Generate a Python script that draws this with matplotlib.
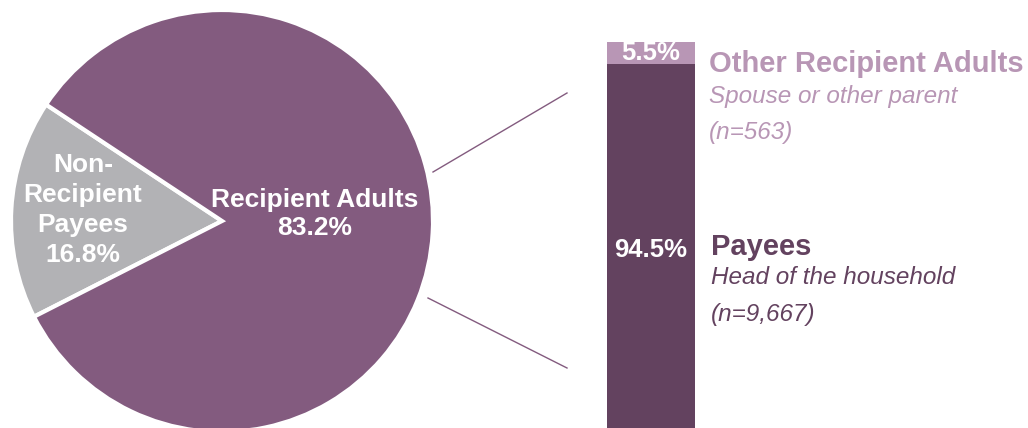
import matplotlib
matplotlib.use("Agg")
import matplotlib.pyplot as plt

plt.rcParams['font.family'] = ['Liberation Sans', 'DejaVu Sans']

# pie: share of adults
pie_labels = ["Non-\nRecipient\nPayees", "Recipient Adults"]
pie_values = [16.8, 83.2]
pie_colors = ["#B2B2B5", "#835B7F"]

# bar: breakdown of recipient adults
bar_names = ["Payees", "Other Recipient Adults"]
bar_subs = ["Head of the household", "Spouse or other parent"]
bar_counts = ["(n=9,667)", "(n=563)"]
bar_values = [94.5, 5.5]
bar_colors = ["#63425F", "#B896B5"]

W, H = 1028, 428
fig = plt.figure(figsize=(W / 100, H / 100), dpi=100)
ax = fig.add_axes([0, 0, 1, 1])

cx, cy, r = 222, H - 221, 211
ax.pie(pie_values, colors=pie_colors, startangle=146.5, counterclock=True,
       center=(cx, cy), radius=r,
       wedgeprops=dict(edgecolor="white", linewidth=3))
ax.set_xlim(0, W)
ax.set_ylim(0, H)
ax.set_aspect("auto")
ax.axis("off")

ax.text(83, H - 210, pie_labels[0] + "\n" + f"{pie_values[0]:.1f}%", color="white",
        fontsize=19, fontweight="bold", ha="center", va="center", linespacing=1.3)
ax.text(315, H - 214, pie_labels[1] + "\n" + f"{pie_values[1]:.1f}%", color="white",
        fontsize=19, fontweight="bold", ha="center", va="center", linespacing=1.25)

# connector lines
ax.plot([433, 567], [H - 172, H - 93], color="#835B7F", lw=1)
ax.plot([428, 567], [H - 298, H - 368], color="#835B7F", lw=1)

# stacked bar
top, height = 42, 395
bax = fig.add_axes([607 / W, (H - top - height) / H, 88 / W, height / H])
bottom = 0
for v, c in zip(bar_values, bar_colors):
    bax.bar(0, v, bottom=bottom, width=1, color=c)
    bax.text(0, bottom + v / 2, f"{v:.1f}%", color="white", fontsize=18.5,
             fontweight="bold", ha="center", va="center")
    bottom += v
bax.set_xlim(-0.5, 0.5)
bax.set_ylim(0, 100)
bax.axis("off")

# side labels
ax.text(709, H - 64, bar_names[1], color=bar_colors[1], fontsize=21,
        fontweight="bold", ha="left", va="center")
ax.text(709, H - 96, bar_subs[1], color=bar_colors[1], fontsize=17.5,
        style="italic", ha="left", va="center")
ax.text(709, H - 132, bar_counts[1], color=bar_colors[1], fontsize=17.5,
        style="italic", ha="left", va="center")

ax.text(711, H - 247, bar_names[0], color=bar_colors[0], fontsize=21,
        fontweight="bold", ha="left", va="center")
ax.text(711, H - 277, bar_subs[0], color=bar_colors[0], fontsize=17.5,
        style="italic", ha="left", va="center")
ax.text(711, H - 315, bar_counts[0], color=bar_colors[0], fontsize=17.5,
        style="italic", ha="left", va="center")

fig.savefig("out.png", dpi=100)
